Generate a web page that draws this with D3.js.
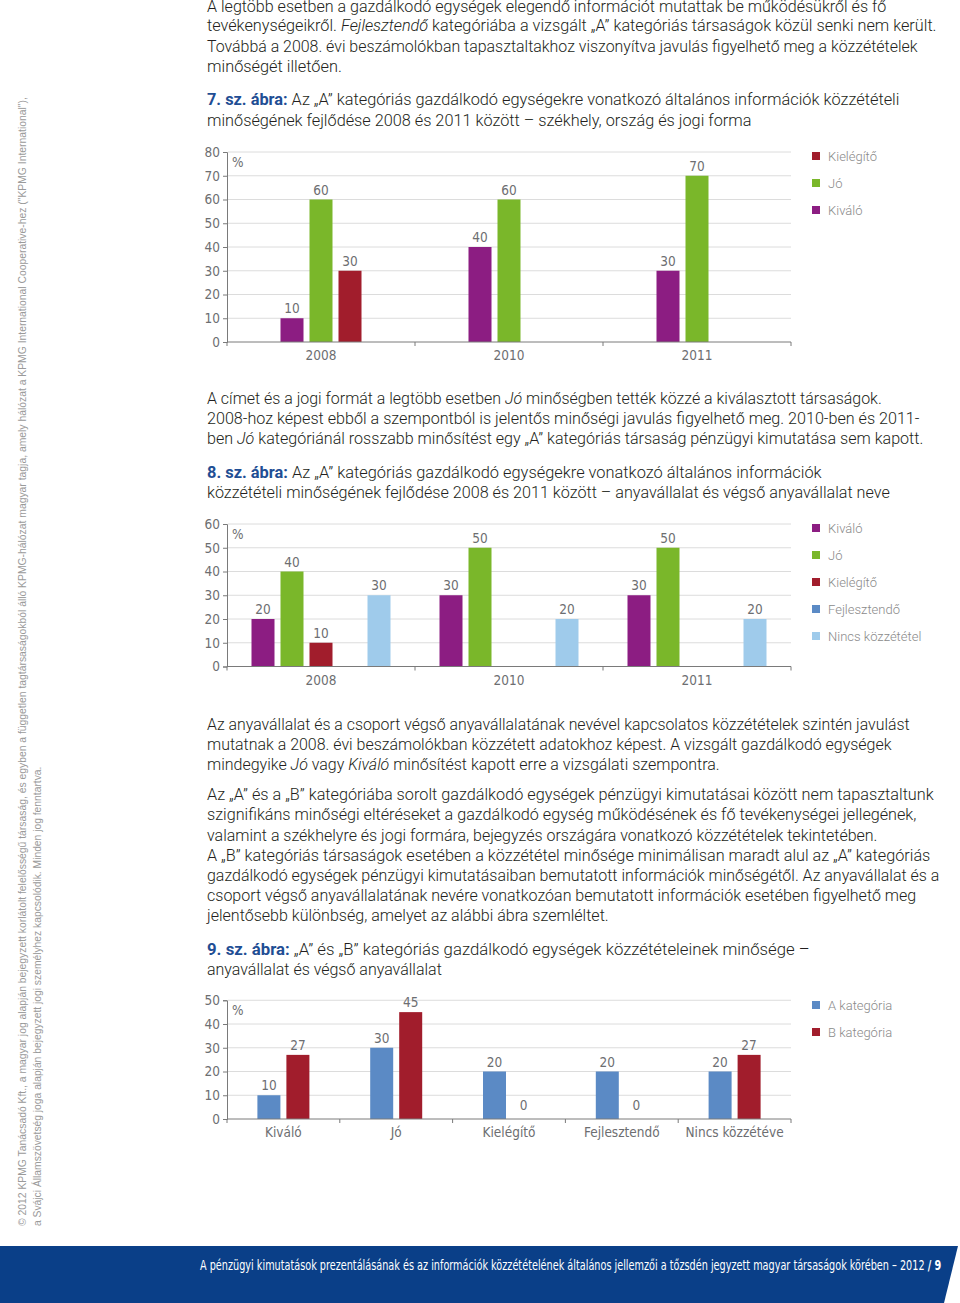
<!DOCTYPE html>
<meta charset="utf-8">
<style>
body { margin: 0; background: #fff; }
svg { display: block; }
.body { font-family: Roboto, "Liberation Sans", sans-serif; font-size: 16px; font-weight: 300; fill: #231f20; }
.body .fig { fill: #1f4e94; font-weight: bold; }
.axis text, .val, .cat { font-family: "Liberation Sans Narrow", "DejaVu Sans Condensed", sans-serif; font-size: 13.5px; fill: #6d6e71; }
.legend text { font-family: Roboto, "Liberation Sans", sans-serif; font-size: 13px; font-weight: 300; fill: #8a8a8a; }
.side { font-family: "Liberation Sans", sans-serif; font-size: 10px; fill: #9a9a9a; }
.foot { font-family: "Liberation Sans Narrow", "DejaVu Sans Condensed", sans-serif; font-size: 13.5px; fill: #fff; }
</style>
<svg width="960" height="1303"></svg>
<script src="https://cdn.jsdelivr.net/npm/d3@7"></script>
<script>

// ---- chart data ----
let years = ["2008", "2010", "2011"];

let fig7Series = ["Kiváló", "Jó", "Kielégítő"];
let fig7Kivalo = [10, 40, 30],
    fig7Jo = [60, 60, 70],
    fig7Kielegito = [30, null, null];
let fig7Ticks = [0, 10, 20, 30, 40, 50, 60, 70, 80];
let fig7Legend = ["Kielégítő", "Jó", "Kiváló"];

let fig8Series = ["Kiváló", "Jó", "Kielégítő", "Fejlesztendő", "Nincs közzététel"];
let fig8Kivalo = [20, 30, 30],
    fig8Jo = [40, 50, 50],
    fig8Kielegito = [10, null, null],
    fig8Fejlesztendo = [null, null, null],
    fig8Nincs = [30, 20, 20];
let fig8Ticks = [0, 10, 20, 30, 40, 50, 60];
let fig8Legend = ["Kiváló", "Jó", "Kielégítő", "Fejlesztendő", "Nincs közzététel"];

let fig9Cats = ["Kiváló", "Jó", "Kielégítő", "Fejlesztendő", "Nincs közzétéve"];
let fig9Series = ["A kategória", "B kategória"];
let fig9A = [10, 30, 20, 20, 20],
    fig9B = [27, 45, 0, 0, 27];
let fig9Ticks = [0, 10, 20, 30, 40, 50];
let fig9Legend = ["A kategória", "B kategória"];

let colors = {
  "Kiváló": "#8c1d82",
  "Jó": "#7ab72a",
  "Kielégítő": "#a11d2c",
  "Fejlesztendő": "#5b8ac5",
  "Nincs közzététel": "#9fcbeb",
  "A kategória": "#5b8ac5",
  "B kategória": "#a11d2c"
};

// ---- page text (* italic *, # figure label #) ----
let bodyLines = [
  [12, 887, "A legtöbb esetben a gazdálkodó egységek elegendő információt mutattak be működésükről és fő"],
  [31, 937, "tevékenységeikről. *Fejlesztendő* kategóriába a vizsgált „A” kategóriás társaságok közül senki nem került."],
  [52, 918, "Továbbá a 2008. évi beszámolókban tapasztaltakhoz viszonyítva javulás figyelhető meg a közzétételek"],
  [72, 342, "minőségét illetően."],
  [105, 900, "#7. sz. ábra:# Az „A” kategóriás gazdálkodó egységekre vonatkozó általános információk közzétételi"],
  [126, 752, "minőségének fejlődése 2008 és 2011 között – székhely, ország és jogi forma"],
  [404, 882, "A címet és a jogi formát a legtöbb esetben *Jó* minőségben tették közzé a kiválasztott társaságok."],
  [424, 920, "2008-hoz képest ebből a szempontból is jelentős minőségi javulás figyelhető meg. 2010-ben és 2011-"],
  [444, 924, "ben *Jó* kategóriánál rosszabb minősítést egy „A” kategóriás társaság pénzügyi kimutatása sem kapott."],
  [478, 822, "#8. sz. ábra:# Az „A” kategóriás gazdálkodó egységekre vonatkozó általános információk"],
  [498, 890, "közzétételi minőségének fejlődése 2008 és 2011 között – anyavállalat és végső anyavállalat neve"],
  [730, 910, "Az anyavállalat és a csoport végső anyavállalatának nevével kapcsolatos közzétételek szintén javulást"],
  [750, 892, "mutatnak a 2008. évi beszámolókban közzétett adatokhoz képest. A vizsgált gazdálkodó egységek"],
  [770, 720, "mindegyike *Jó* vagy *Kiváló* minősítést kapott erre a vizsgálati szempontra."],
  [800, 935, "Az „A” és a „B” kategóriába sorolt gazdálkodó egységek pénzügyi kimutatásai között nem tapasztaltunk"],
  [820, 917, "szignifikáns minőségi eltéréseket a gazdálkodó egység működésének és fő tevékenységei jellegének,"],
  [841, 878, "valamint a székhelyre és jogi formára, bejegyzés országára vonatkozó közzétételek tekintetében."],
  [861, 931, "A „B” kategóriás társaságok esetében a közzététel minősége minimálisan maradt alul az „A” kategóriás"],
  [881, 940, "gazdálkodó egységek pénzügyi kimutatásaiban bemutatott információk minőségétől. Az anyavállalat és a"],
  [901, 917, "csoport végső anyavállalatának nevére vonatkozóan bemutatott információk esetében figyelhető meg"],
  [921, 609, "jelentősebb különbség, amelyet az alábbi ábra szemléltet."],
  [955, 810, "#9. sz. ábra:# „A” és „B” kategóriás gazdálkodó egységek közzétételeinek minősége –"],
  [975, 442, "anyavállalat és végső anyavállalat"]
];

let svg = d3.select("svg");

// stretch a text node so it ends where the printed line ends
function fitText(sel, x0, y0, x1) {
  let w = sel.node().getComputedTextLength();
  sel.attr("transform", "translate(" + x0 + "," + y0 + ") scale(" + ((x1 - x0) / w) + ",1)");
}

bodyLines.forEach(l => {
  let t = svg.append("text").attr("class", "body");
  l[2].split(/(\*[^*]+\*|#[^#]+#)/).filter(s => s.length).forEach(s => {
    let sp = t.append("tspan");
    if (s[0] == "*") sp.attr("font-style", "italic").text(s.slice(1, -1));
    else if (s[0] == "#") sp.attr("class", "fig").text(s.slice(1, -1));
    else sp.text(s);
  });
  fitText(t, 207, l[0], l[1]);
});

// ---- bar charts ----
let left = 227, right = 791, pxPerUnit = 2.375;

function drawChart(cfg) {
  let g = svg.append("g");
  let top = cfg.bottom - cfg.max * pxPerUnit;

  let x = d3.scaleBand().domain(cfg.cats).range([left, right]);
  let n = cfg.series.length, step = 29;
  let slot = d3.scaleBand().domain(cfg.series)
      .range([-n * step / 2, n * step / 2])
      .paddingInner(6 / 29).paddingOuter(3 / 29);
  let y = d3.scaleLinear().domain([0, cfg.max]).range([cfg.bottom, top]);

  g.selectAll(".grid")
      .data(cfg.ticks.filter(d => d > 0))
    .enter().append("line")
      .attr("x1", left + 1).attr("x2", right)
      .attr("y1", d => y(d)).attr("y2", d => y(d))
      .attr("stroke", "#dcdcdc");

  let ax = g.append("g").attr("class", "axis")
      .attr("transform", "translate(" + left + ",0)")
      .call(d3.axisLeft(y).tickValues(cfg.ticks).tickSize(4).tickPadding(3));
  ax.selectAll("path, line").attr("stroke", "#7a7a7a");

  g.append("text").attr("class", "val")
      .attr("x", left + 5).attr("y", top + 15)
      .text("%");

  // bars
  cfg.series.forEach((s, si) => {
    let vals = cfg.values[si];
    let cell = g.selectAll(".b" + si)
        .data(cfg.cats.map((c, i) => ({ c: c, v: vals[i] })).filter(d => d.v != null))
      .enter();
    cell.append("rect")
        .attr("x", d => x(d.c) + x.bandwidth() / 2 + slot(s))
        .attr("y", d => y(d.v))
        .attr("width", slot.bandwidth())
        .attr("height", d => cfg.bottom - y(d.v))
        .attr("fill", colors[s]);
    cell.append("text").attr("class", "val")
        .attr("x", d => x(d.c) + x.bandwidth() / 2 + slot(s) + slot.bandwidth() / 2)
        .attr("y", d => y(d.v) - (d.v == 0 ? 9 : 5))
        .attr("text-anchor", "middle")
        .text(d => d.v);
  });

  // x axis
  g.append("line")
      .attr("x1", left).attr("x2", right)
      .attr("y1", cfg.bottom).attr("y2", cfg.bottom)
      .attr("stroke", "#7a7a7a");
  g.selectAll(".xt")
      .data(cfg.cats.map(c => x(c)).concat([right]))
    .enter().append("line")
      .attr("x1", d => d).attr("x2", d => d)
      .attr("y1", cfg.bottom).attr("y2", cfg.bottom + 4)
      .attr("stroke", "#7a7a7a");
  g.selectAll(".cat")
      .data(cfg.cats)
    .enter().append("text").attr("class", "cat")
      .attr("x", d => x(d) + x.bandwidth() / 2)
      .attr("y", cfg.bottom + 18)
      .attr("text-anchor", "middle")
      .text(d => d);

  // legend
  let lg = g.append("g").attr("class", "legend");
  cfg.legend.forEach((s, i) => {
    let cy = cfg.legendY + i * 27;
    lg.append("rect").attr("x", 812).attr("y", cy - 4).attr("width", 8).attr("height", 8)
        .attr("fill", colors[s]);
    lg.append("text").attr("x", 828).attr("y", cy + 5).text(s);
  });
}

drawChart({
  bottom: 342, max: 80, ticks: fig7Ticks, cats: years,
  series: fig7Series, values: [fig7Kivalo, fig7Jo, fig7Kielegito],
  legend: fig7Legend, legendY: 156
});

drawChart({
  bottom: 666.5, max: 60, ticks: fig8Ticks, cats: years,
  series: fig8Series, values: [fig8Kivalo, fig8Jo, fig8Kielegito, fig8Fejlesztendo, fig8Nincs],
  legend: fig8Legend, legendY: 528
});

drawChart({
  bottom: 1119, max: 50, ticks: fig9Ticks, cats: fig9Cats,
  series: fig9Series, values: [fig9A, fig9B],
  legend: fig9Legend, legendY: 1005
});

// ---- side copyright note ----
let side1 = svg.append("text").attr("class", "side")
    .text("© 2012 KPMG Tanácsadó Kft., a magyar jog alapján bejegyzett korlátolt felelősségű társaság, és egyben a független tagtársaságokból álló KPMG-hálózat magyar tagja, amely hálózat a KPMG International Cooperative-hez (\"KPMG International\"),");
let side2 = svg.append("text").attr("class", "side")
    .text("a Svájci Államszövetség joga alapján bejegyzett jogi személyhez kapcsolódik. Minden jog fenntartva.");
[[side1, 26, 1130], [side2, 41, 460]].forEach(d => {
  let w = d[0].node().getComputedTextLength();
  d[0].attr("transform", "translate(" + d[1] + ",1226) rotate(-90) scale(" + (d[2] / w) + ",1)");
});

// ---- footer band ----
svg.append("path")
    .attr("d", "M0,1246 L958,1246 L944,1303 L0,1303 Z")
    .attr("fill", "#0a3f88");
let foot = svg.append("text").attr("class", "foot");
foot.append("tspan").text("A pénzügyi kimutatások prezentálásának és az információk közzétételének általános jellemzői a tőzsdén jegyzett magyar társaságok körében – 2012 ");
foot.append("tspan").attr("font-weight", "bold").text("/ 9");
fitText(foot, 200, 1270, 942);

</script>
